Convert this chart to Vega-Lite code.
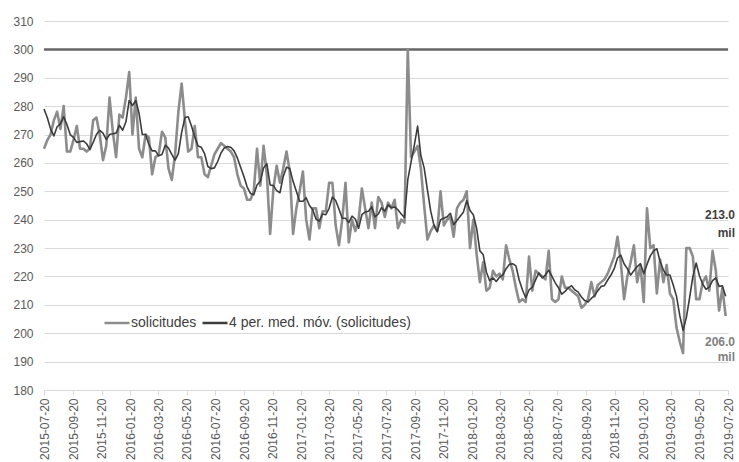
{
  "$schema": "https://vega.github.io/schema/vega-lite/v6.json",
  "width": 684,
  "height": 369,
  "autosize": {"type": "none"},
  "padding": {"left": 44, "top": 21, "right": 11, "bottom": 72},
  "background": "white",
  "config": {
    "font": "Liberation Sans",
    "view": {"stroke": null},
    "axisX": {"labelFont": "Liberation Sans", "labelFontSize": 12, "labelColor": "#595959", "labelAngle": 270, "labelAlign": "right", "labelBaseline": "middle", "labelPadding": 3, "tickSize": 5, "tickColor": "#d9d9d9", "domainColor": "#d9d9d9", "domainWidth": 1, "grid": false, "title": null, "labelOverlap": false, "tickCount": 60},
    "axisY": {"labelFont": "Liberation Sans", "labelFontSize": 12, "labelColor": "#595959", "ticks": false, "tickSize": 0, "labelPadding": 11, "domain": false, "grid": true, "gridColor": "#d9d9d9", "gridWidth": 1, "title": null, "labelOverlap": false, "tickCount": 60}
  },
  "datasets": {
    "semanas": [
      {"fecha":"2015-07-20","solicitudes":265,"media":279},
      {"fecha":"2015-07-27","solicitudes":268,"media":276},
      {"fecha":"2015-08-03","solicitudes":270,"media":272},
      {"fecha":"2015-08-10","solicitudes":275,"media":269.5},
      {"fecha":"2015-08-17","solicitudes":278,"media":272.75},
      {"fecha":"2015-08-24","solicitudes":272,"media":273.75},
      {"fecha":"2015-08-31","solicitudes":280,"media":276.25},
      {"fecha":"2015-09-07","solicitudes":264,"media":273.5},
      {"fecha":"2015-09-14","solicitudes":264,"media":270},
      {"fecha":"2015-09-21","solicitudes":268,"media":269},
      {"fecha":"2015-09-28","solicitudes":273,"media":267.25},
      {"fecha":"2015-10-05","solicitudes":265,"media":267.5},
      {"fecha":"2015-10-12","solicitudes":265,"media":267.75},
      {"fecha":"2015-10-19","solicitudes":264,"media":266.75},
      {"fecha":"2015-10-26","solicitudes":265,"media":264.75},
      {"fecha":"2015-11-02","solicitudes":275,"media":267.25},
      {"fecha":"2015-11-09","solicitudes":276,"media":270},
      {"fecha":"2015-11-16","solicitudes":270,"media":271.5},
      {"fecha":"2015-11-23","solicitudes":261,"media":270.5},
      {"fecha":"2015-11-30","solicitudes":266,"media":268.25},
      {"fecha":"2015-12-07","solicitudes":283,"media":270},
      {"fecha":"2015-12-14","solicitudes":271,"media":270.25},
      {"fecha":"2015-12-21","solicitudes":262,"media":270.5},
      {"fecha":"2015-12-28","solicitudes":277,"media":273.25},
      {"fecha":"2016-01-04","solicitudes":276,"media":271.5},
      {"fecha":"2016-01-11","solicitudes":283,"media":274.5},
      {"fecha":"2016-01-18","solicitudes":292,"media":282},
      {"fecha":"2016-01-25","solicitudes":270,"media":280.25},
      {"fecha":"2016-02-01","solicitudes":283,"media":282},
      {"fecha":"2016-02-08","solicitudes":265,"media":277.5},
      {"fecha":"2016-02-15","solicitudes":262,"media":270},
      {"fecha":"2016-02-22","solicitudes":270,"media":270},
      {"fecha":"2016-02-29","solicitudes":269,"media":266.5},
      {"fecha":"2016-03-07","solicitudes":256,"media":264.25},
      {"fecha":"2016-03-14","solicitudes":262,"media":264.25},
      {"fecha":"2016-03-21","solicitudes":263,"media":262.5},
      {"fecha":"2016-03-28","solicitudes":271,"media":263},
      {"fecha":"2016-04-04","solicitudes":269,"media":266.25},
      {"fecha":"2016-04-11","solicitudes":258,"media":265.25},
      {"fecha":"2016-04-18","solicitudes":254,"media":263},
      {"fecha":"2016-04-25","solicitudes":263,"media":261},
      {"fecha":"2016-05-02","solicitudes":278,"media":263.25},
      {"fecha":"2016-05-09","solicitudes":288,"media":270.75},
      {"fecha":"2016-05-16","solicitudes":275,"media":276},
      {"fecha":"2016-05-23","solicitudes":264,"media":276.25},
      {"fecha":"2016-05-30","solicitudes":265,"media":273},
      {"fecha":"2016-06-06","solicitudes":273,"media":269.25},
      {"fecha":"2016-06-13","solicitudes":262,"media":266},
      {"fecha":"2016-06-20","solicitudes":262,"media":265.5},
      {"fecha":"2016-06-27","solicitudes":256,"media":263.25},
      {"fecha":"2016-07-04","solicitudes":255,"media":258.75},
      {"fecha":"2016-07-11","solicitudes":259,"media":258},
      {"fecha":"2016-07-18","solicitudes":263,"media":258.25},
      {"fecha":"2016-07-25","solicitudes":265,"media":260.5},
      {"fecha":"2016-08-01","solicitudes":267,"media":263.5},
      {"fecha":"2016-08-08","solicitudes":266,"media":265.25},
      {"fecha":"2016-08-15","solicitudes":265,"media":265.75},
      {"fecha":"2016-08-22","solicitudes":264,"media":265.5},
      {"fecha":"2016-08-29","solicitudes":262,"media":264.25},
      {"fecha":"2016-09-05","solicitudes":256,"media":261.75},
      {"fecha":"2016-09-12","solicitudes":252,"media":258.5},
      {"fecha":"2016-09-19","solicitudes":251,"media":255.25},
      {"fecha":"2016-09-26","solicitudes":247,"media":251.5},
      {"fecha":"2016-10-03","solicitudes":247,"media":249.25},
      {"fecha":"2016-10-10","solicitudes":250,"media":248.75},
      {"fecha":"2016-10-17","solicitudes":265,"media":252.25},
      {"fecha":"2016-10-24","solicitudes":252,"media":253.5},
      {"fecha":"2016-10-31","solicitudes":266,"media":258.25},
      {"fecha":"2016-11-07","solicitudes":256,"media":259.75},
      {"fecha":"2016-11-14","solicitudes":235,"media":252.25},
      {"fecha":"2016-11-21","solicitudes":251,"media":252},
      {"fecha":"2016-11-28","solicitudes":259,"media":250.25},
      {"fecha":"2016-12-05","solicitudes":253,"media":249.5},
      {"fecha":"2016-12-12","solicitudes":258,"media":255.25},
      {"fecha":"2016-12-19","solicitudes":264,"media":258.5},
      {"fecha":"2016-12-26","solicitudes":257,"media":258},
      {"fecha":"2017-01-02","solicitudes":235,"media":253.5},
      {"fecha":"2017-01-09","solicitudes":244,"media":250},
      {"fecha":"2017-01-16","solicitudes":250,"media":246.5},
      {"fecha":"2017-01-23","solicitudes":257,"media":246.5},
      {"fecha":"2017-01-30","solicitudes":240,"media":247.75},
      {"fecha":"2017-02-06","solicitudes":233,"media":245},
      {"fecha":"2017-02-13","solicitudes":244,"media":243.5},
      {"fecha":"2017-02-20","solicitudes":244,"media":240.25},
      {"fecha":"2017-02-27","solicitudes":237,"media":239.5},
      {"fecha":"2017-03-06","solicitudes":243,"media":242},
      {"fecha":"2017-03-13","solicitudes":243,"media":241.75},
      {"fecha":"2017-03-20","solicitudes":253,"media":244},
      {"fecha":"2017-03-27","solicitudes":253,"media":248},
      {"fecha":"2017-04-03","solicitudes":238,"media":246.75},
      {"fecha":"2017-04-10","solicitudes":231,"media":243.75},
      {"fecha":"2017-04-17","solicitudes":240,"media":240.5},
      {"fecha":"2017-04-24","solicitudes":253,"media":240.5},
      {"fecha":"2017-05-01","solicitudes":232,"media":239},
      {"fecha":"2017-05-08","solicitudes":240,"media":241.25},
      {"fecha":"2017-05-15","solicitudes":236,"media":240.25},
      {"fecha":"2017-05-22","solicitudes":240,"media":237},
      {"fecha":"2017-05-29","solicitudes":251,"media":241.75},
      {"fecha":"2017-06-05","solicitudes":244,"media":242.75},
      {"fecha":"2017-06-12","solicitudes":237,"media":243},
      {"fecha":"2017-06-19","solicitudes":246,"media":244.5},
      {"fecha":"2017-06-26","solicitudes":237,"media":241},
      {"fecha":"2017-07-03","solicitudes":248,"media":242},
      {"fecha":"2017-07-10","solicitudes":246,"media":244.25},
      {"fecha":"2017-07-17","solicitudes":241,"media":243},
      {"fecha":"2017-07-24","solicitudes":246,"media":245.25},
      {"fecha":"2017-07-31","solicitudes":244,"media":244.25},
      {"fecha":"2017-08-07","solicitudes":247,"media":244.5},
      {"fecha":"2017-08-14","solicitudes":237,"media":243.5},
      {"fecha":"2017-08-21","solicitudes":240,"media":242},
      {"fecha":"2017-08-28","solicitudes":239,"media":240.75},
      {"fecha":"2017-09-04","solicitudes":300,"media":254},
      {"fecha":"2017-09-11","solicitudes":262,"media":260.25},
      {"fecha":"2017-09-18","solicitudes":264,"media":266.25},
      {"fecha":"2017-09-25","solicitudes":266,"media":273},
      {"fecha":"2017-10-02","solicitudes":258,"media":262.5},
      {"fecha":"2017-10-09","solicitudes":245,"media":258.25},
      {"fecha":"2017-10-16","solicitudes":233,"media":250.5},
      {"fecha":"2017-10-23","solicitudes":236,"media":243},
      {"fecha":"2017-10-30","solicitudes":238,"media":238},
      {"fecha":"2017-11-06","solicitudes":236,"media":235.75},
      {"fecha":"2017-11-13","solicitudes":250,"media":240},
      {"fecha":"2017-11-20","solicitudes":238,"media":240.5},
      {"fecha":"2017-11-27","solicitudes":240,"media":241},
      {"fecha":"2017-12-04","solicitudes":241,"media":242.25},
      {"fecha":"2017-12-11","solicitudes":234,"media":238.25},
      {"fecha":"2017-12-18","solicitudes":244,"media":239.75},
      {"fecha":"2017-12-25","solicitudes":246,"media":241.25},
      {"fecha":"2018-01-01","solicitudes":247,"media":242.75},
      {"fecha":"2018-01-08","solicitudes":250,"media":246.75},
      {"fecha":"2018-01-15","solicitudes":230,"media":243.25},
      {"fecha":"2018-01-22","solicitudes":240,"media":241.75},
      {"fecha":"2018-01-29","solicitudes":228,"media":237},
      {"fecha":"2018-02-05","solicitudes":218,"media":229},
      {"fecha":"2018-02-12","solicitudes":225,"media":227.75},
      {"fecha":"2018-02-19","solicitudes":215,"media":221.5},
      {"fecha":"2018-02-26","solicitudes":216,"media":218.5},
      {"fecha":"2018-03-05","solicitudes":222,"media":219.5},
      {"fecha":"2018-03-12","solicitudes":220,"media":218.25},
      {"fecha":"2018-03-19","solicitudes":221,"media":219.75},
      {"fecha":"2018-03-26","solicitudes":219,"media":220.5},
      {"fecha":"2018-04-02","solicitudes":231,"media":222.75},
      {"fecha":"2018-04-09","solicitudes":226,"media":224.25},
      {"fecha":"2018-04-16","solicitudes":222,"media":224.5},
      {"fecha":"2018-04-23","solicitudes":216,"media":223.75},
      {"fecha":"2018-04-30","solicitudes":211,"media":218.75},
      {"fecha":"2018-05-07","solicitudes":212,"media":215.25},
      {"fecha":"2018-05-14","solicitudes":211,"media":212.5},
      {"fecha":"2018-05-21","solicitudes":227,"media":215.25},
      {"fecha":"2018-05-28","solicitudes":215,"media":216.25},
      {"fecha":"2018-06-04","solicitudes":222,"media":218.75},
      {"fecha":"2018-06-11","solicitudes":221,"media":221.25},
      {"fecha":"2018-06-18","solicitudes":220,"media":219.5},
      {"fecha":"2018-06-25","solicitudes":219,"media":220.5},
      {"fecha":"2018-07-02","solicitudes":229,"media":222.25},
      {"fecha":"2018-07-09","solicitudes":212,"media":220},
      {"fecha":"2018-07-16","solicitudes":211,"media":217.75},
      {"fecha":"2018-07-23","solicitudes":212,"media":216},
      {"fecha":"2018-07-30","solicitudes":220,"media":213.75},
      {"fecha":"2018-08-06","solicitudes":216,"media":214.75},
      {"fecha":"2018-08-13","solicitudes":216,"media":216},
      {"fecha":"2018-08-20","solicitudes":215,"media":216.75},
      {"fecha":"2018-08-27","solicitudes":214,"media":215.25},
      {"fecha":"2018-09-03","solicitudes":213,"media":214.5},
      {"fecha":"2018-09-10","solicitudes":209,"media":212.75},
      {"fecha":"2018-09-17","solicitudes":210,"media":211.5},
      {"fecha":"2018-09-24","solicitudes":212,"media":211},
      {"fecha":"2018-10-01","solicitudes":218,"media":212.25},
      {"fecha":"2018-10-08","solicitudes":213,"media":213.25},
      {"fecha":"2018-10-15","solicitudes":217,"media":215},
      {"fecha":"2018-10-22","solicitudes":218,"media":216.5},
      {"fecha":"2018-10-29","solicitudes":219,"media":216.75},
      {"fecha":"2018-11-05","solicitudes":221,"media":218.75},
      {"fecha":"2018-11-12","solicitudes":224,"media":220.5},
      {"fecha":"2018-11-19","solicitudes":227,"media":222.75},
      {"fecha":"2018-11-26","solicitudes":234,"media":226.5},
      {"fecha":"2018-12-03","solicitudes":225,"media":227.5},
      {"fecha":"2018-12-10","solicitudes":212,"media":224.5},
      {"fecha":"2018-12-17","solicitudes":220,"media":222.75},
      {"fecha":"2018-12-24","solicitudes":225,"media":220.5},
      {"fecha":"2018-12-31","solicitudes":231,"media":222},
      {"fecha":"2019-01-07","solicitudes":218,"media":223.5},
      {"fecha":"2019-01-14","solicitudes":224,"media":224.5},
      {"fecha":"2019-01-21","solicitudes":211,"media":221},
      {"fecha":"2019-01-28","solicitudes":244,"media":224.25},
      {"fecha":"2019-02-04","solicitudes":230,"media":227.25},
      {"fecha":"2019-02-11","solicitudes":231,"media":229},
      {"fecha":"2019-02-18","solicitudes":214,"media":229.75},
      {"fecha":"2019-02-25","solicitudes":226,"media":225.25},
      {"fecha":"2019-03-04","solicitudes":218,"media":222.25},
      {"fecha":"2019-03-11","solicitudes":224,"media":220.5},
      {"fecha":"2019-03-18","solicitudes":214,"media":220.5},
      {"fecha":"2019-03-25","solicitudes":212,"media":217},
      {"fecha":"2019-04-01","solicitudes":202,"media":213},
      {"fecha":"2019-04-08","solicitudes":197,"media":206.25},
      {"fecha":"2019-04-15","solicitudes":193,"media":201},
      {"fecha":"2019-04-22","solicitudes":230,"media":205.5},
      {"fecha":"2019-04-29","solicitudes":230,"media":212.5},
      {"fecha":"2019-05-06","solicitudes":227,"media":220},
      {"fecha":"2019-05-13","solicitudes":212,"media":224.75},
      {"fecha":"2019-05-20","solicitudes":212,"media":220.25},
      {"fecha":"2019-05-27","solicitudes":218,"media":217.25},
      {"fecha":"2019-06-03","solicitudes":220,"media":215.5},
      {"fecha":"2019-06-10","solicitudes":215,"media":216.25},
      {"fecha":"2019-06-17","solicitudes":229,"media":218.5},
      {"fecha":"2019-06-24","solicitudes":222,"media":219.5},
      {"fecha":"2019-07-01","solicitudes":208,"media":216.5},
      {"fecha":"2019-07-08","solicitudes":216,"media":216.75},
      {"fecha":"2019-07-15","solicitudes":206,"media":213}
    ],
    "etiquetas": [
      {"fecha":"2019-08-04","valor":241.7,"texto":"213.0","serie":"media"},
      {"fecha":"2019-08-04","valor":235.2,"texto":"mil","serie":"media"},
      {"fecha":"2019-08-04","valor":197.0,"texto":"206.0","serie":"solicitudes"},
      {"fecha":"2019-08-04","valor":191.7,"texto":"mil","serie":"solicitudes"}
    ]
  },
  "layer": [
    {
      "data": {"values": [{"umbral": 300}]},
      "mark": {"type": "rule", "color": "#666666", "strokeWidth": 2.5},
      "encoding": {
        "y": {"field": "umbral", "type": "quantitative", "scale": {"domain": [180, 310], "nice": false, "zero": false}, "axis": {"tickCount": 60, "values": [180,190,200,210,220,230,240,250,260,270,280,290,300,310]}}
      }
    },
    {
      "data": {"name": "semanas"},
      "mark": {"type": "line", "strokeWidth": 2.6, "strokeJoin": "round"},
      "encoding": {
        "x": {"field": "fecha", "type": "temporal",
          "scale": {"type": "utc", "domain": [{"year":2015,"month":7,"date":20,"utc":true},{"year":2019,"month":7,"date":20,"utc":true}]},
          "axis": {"tickCount": 60, "labelExpr": "utcFormat(datum.value, '%Y-%m-%d')", "values": [
            {"year":2015,"month":7,"date":20,"utc":true},{"year":2015,"month":9,"date":20,"utc":true},{"year":2015,"month":11,"date":20,"utc":true},
            {"year":2016,"month":1,"date":20,"utc":true},{"year":2016,"month":3,"date":20,"utc":true},{"year":2016,"month":5,"date":20,"utc":true},{"year":2016,"month":7,"date":20,"utc":true},{"year":2016,"month":9,"date":20,"utc":true},{"year":2016,"month":11,"date":20,"utc":true},
            {"year":2017,"month":1,"date":20,"utc":true},{"year":2017,"month":3,"date":20,"utc":true},{"year":2017,"month":5,"date":20,"utc":true},{"year":2017,"month":7,"date":20,"utc":true},{"year":2017,"month":9,"date":20,"utc":true},{"year":2017,"month":11,"date":20,"utc":true},
            {"year":2018,"month":1,"date":20,"utc":true},{"year":2018,"month":3,"date":20,"utc":true},{"year":2018,"month":5,"date":20,"utc":true},{"year":2018,"month":7,"date":20,"utc":true},{"year":2018,"month":9,"date":20,"utc":true},{"year":2018,"month":11,"date":20,"utc":true},
            {"year":2019,"month":1,"date":20,"utc":true},{"year":2019,"month":3,"date":20,"utc":true},{"year":2019,"month":5,"date":20,"utc":true},{"year":2019,"month":7,"date":20,"utc":true}
          ]}},
        "y": {"field": "solicitudes", "type": "quantitative"},
        "color": {"datum": "solicitudes", "type": "nominal",
          "scale": {"domain": ["solicitudes", "media"], "range": ["#8c8c8c", "#3c3c3c"]},
          "legend": {"title": null, "orient": "none", "legendX": 59, "legendY": 288, "direction": "horizontal", "symbolType": "stroke", "symbolSize": 625, "symbolStrokeWidth": 2.5, "labelFont": "Liberation Sans", "labelFontSize": 14, "labelColor": "#404040", "labelOffset": 0, "columnPadding": 0, "padding": 0, "labelLimit": 300,
            "labelExpr": "datum.label == 'media' ? '4 per. med. móv. (solicitudes)' : datum.label"}}
      }
    },
    {
      "data": {"name": "semanas"},
      "mark": {"type": "line", "strokeWidth": 1.6, "strokeJoin": "round"},
      "encoding": {
        "x": {"field": "fecha", "type": "temporal"},
        "y": {"field": "media", "type": "quantitative"},
        "color": {"datum": "media", "type": "nominal"}
      }
    },
    {
      "data": {"name": "etiquetas"},
      "transform": [{"filter": "datum.serie == 'media'"}],
      "mark": {"type": "text", "align": "right", "baseline": "middle", "fontSize": 12, "fontWeight": "bold", "font": "Liberation Sans", "color": "#404040"},
      "encoding": {
        "x": {"field": "fecha", "type": "temporal"},
        "y": {"field": "valor", "type": "quantitative"},
        "text": {"field": "texto"}
      }
    },
    {
      "data": {"name": "etiquetas"},
      "transform": [{"filter": "datum.serie == 'solicitudes'"}],
      "mark": {"type": "text", "align": "right", "baseline": "middle", "fontSize": 12, "fontWeight": "bold", "font": "Liberation Sans", "color": "#808080"},
      "encoding": {
        "x": {"field": "fecha", "type": "temporal"},
        "y": {"field": "valor", "type": "quantitative"},
        "text": {"field": "texto"}
      }
    }
  ]
}
